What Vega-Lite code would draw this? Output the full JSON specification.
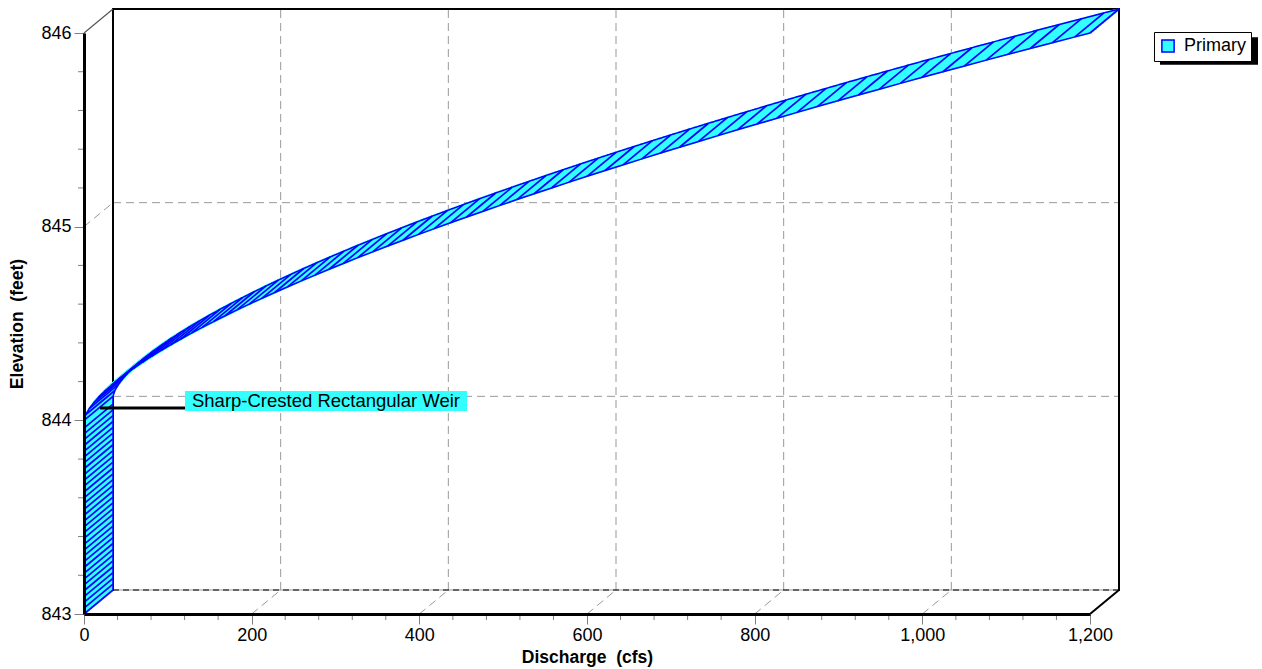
{
  "$schema": "https://vega.github.io/schema/vega-lite/v6.json",
  "width": 1006,
  "height": 581,
  "autosize": {"type": "none"},
  "padding": {"left": 84, "top": 33, "right": 172, "bottom": 55},
  "background": "white",
  "config": {"view": {"stroke": null}, "font": "Liberation Sans"},
  "datasets": {
    "curve": [
      {"h":843.00,"q":0},{"h":843.03,"q":0},{"h":843.06,"q":0},{"h":843.09,"q":0},{"h":843.12,"q":0},{"h":843.15,"q":0},{"h":843.18,"q":0},{"h":843.21,"q":0},{"h":843.24,"q":0},{"h":843.27,"q":0},{"h":843.30,"q":0},{"h":843.33,"q":0},{"h":843.36,"q":0},{"h":843.39,"q":0},{"h":843.42,"q":0},{"h":843.45,"q":0},{"h":843.48,"q":0},{"h":843.51,"q":0},{"h":843.54,"q":0},{"h":843.57,"q":0},{"h":843.60,"q":0},{"h":843.63,"q":0},{"h":843.66,"q":0},{"h":843.69,"q":0},{"h":843.72,"q":0},{"h":843.75,"q":0},{"h":843.78,"q":0},{"h":843.81,"q":0},{"h":843.84,"q":0},{"h":843.87,"q":0},{"h":843.90,"q":0},{"h":843.93,"q":0},{"h":843.96,"q":0},{"h":844.00,"q":0},
      {"h":844.03,"q":2.2},{"h":844.06,"q":6.24},{"h":844.09,"q":11.46},{"h":844.12,"q":17.64},{"h":844.15,"q":24.65},{"h":844.18,"q":32.4},{"h":844.21,"q":40.83},{"h":844.24,"q":49.88},{"h":844.27,"q":59.52},{"h":844.3,"q":69.71},{"h":844.33,"q":80.43},{"h":844.36,"q":91.64},{"h":844.39,"q":103.33},{"h":844.42,"q":115.48},{"h":844.45,"q":128.07},{"h":844.48,"q":141.09},{"h":844.51,"q":154.52},{"h":844.54,"q":168.35},{"h":844.57,"q":182.57},{"h":844.6,"q":197.18},{"h":844.63,"q":212.15},{"h":844.66,"q":227.48},{"h":844.69,"q":243.17},{"h":844.72,"q":259.2},{"h":844.75,"q":275.57},{"h":844.78,"q":292.26},{"h":844.81,"q":309.29},{"h":844.84,"q":326.63},{"h":844.87,"q":344.28},{"h":844.9,"q":362.24},{"h":844.93,"q":380.51},{"h":844.96,"q":399.06},{"h":844.99,"q":417.91},{"h":845.02,"q":437.05},{"h":845.05,"q":456.48},{"h":845.08,"q":476.18},{"h":845.11,"q":496.16},{"h":845.14,"q":516.4},{"h":845.17,"q":536.92},{"h":845.2,"q":557.7},{"h":845.23,"q":578.75},{"h":845.26,"q":600.05},{"h":845.29,"q":621.61},{"h":845.32,"q":643.41},{"h":845.35,"q":665.48},{"h":845.38,"q":687.78},{"h":845.41,"q":710.32},{"h":845.44,"q":733.12},{"h":845.47,"q":756.15},{"h":845.5,"q":779.42},{"h":845.53,"q":802.92},{"h":845.56,"q":826.65},{"h":845.59,"q":850.61},{"h":845.62,"q":874.79},{"h":845.65,"q":899.2},{"h":845.68,"q":923.84},{"h":845.71,"q":948.7},{"h":845.74,"q":973.77},{"h":845.77,"q":999.06},{"h":845.8,"q":1024.57},{"h":845.83,"q":1050.29},{"h":845.86,"q":1076.22},{"h":845.89,"q":1102.36},{"h":845.92,"q":1128.71},{"h":845.95,"q":1155.27},{"h":845.98,"q":1182.03},{"h":846.0,"q":1200}
    ]
  },
  "layer": [
    {
      "data": {"name": "curve"},
      "mark": {"type": "line", "strokeWidth": 0, "opacity": 0},
      "encoding": {
        "x": {"field": "q", "type": "quantitative", "title": "Discharge \u00a0(cfs)",
          "scale": {"domain": [0,1200], "nice": false, "zero": false},
          "axis": {"values": [0,200,400,600,800,1000,1200], "format": ",.0f", "tickSize": 10, "tickColor": "#808080", "tickWidth": 1,
            "domainColor": "#000000", "domainWidth": 3, "labelFontSize": 18, "labelColor": "#000000", "labelPadding": 2,
            "labelFlush": false, "labelOverlap": false, "titleFontSize": 17.5, "titleFontWeight": "bold", "titleColor": "#000000",
            "titlePadding": 4, "grid": false, "zindex": 1}},
        "y": {"field": "h", "type": "quantitative", "title": "Elevation \u00a0(feet)",
          "scale": {"domain": [843,846], "nice": false, "zero": false},
          "axis": {"values": [843,844,845,846], "format": "d", "tickSize": 10, "tickColor": "#808080", "tickWidth": 1,
            "domainColor": "#000000", "domainWidth": 3, "labelFontSize": 18, "labelColor": "#000000", "labelPadding": 3,
            "labelFlush": false, "labelOverlap": false, "titleFontSize": 17.5, "titleFontWeight": "bold", "titleColor": "#000000",
            "titlePadding": 14, "grid": false, "zindex": 1}},
        "order": {"field": "h"}
      }
    },
    {
      "data": {"values": [{"v":200},{"v":400},{"v":600},{"v":800},{"v":1000}]},
      "mark": {"type": "rule", "color": "#999999", "strokeWidth": 1, "strokeDash": [8,5], "xOffset": 29, "yOffset": -24, "y2Offset": -24},
      "encoding": {
        "x": {"field": "v", "type": "quantitative"},
        "y": {"datum": 843, "type": "quantitative"},
        "y2": {"datum": 846}
      }
    },
    {
      "data": {"values": [{"v":844},{"v":845},{"v":846}]},
      "mark": {"type": "rule", "color": "#999999", "strokeWidth": 1, "strokeDash": [8,5], "xOffset": 29, "x2Offset": 29, "yOffset": -24},
      "encoding": {
        "y": {"field": "v", "type": "quantitative"},
        "x": {"datum": 0, "type": "quantitative"},
        "x2": {"datum": 1200}
      }
    },
    {
      "data": {"values": [{"v":844},{"v":845}]},
      "mark": {"type": "rule", "color": "#999999", "strokeWidth": 1, "strokeDash": [8,5], "x2Offset": 29, "y2Offset": -24},
      "encoding": {
        "y": {"field": "v", "type": "quantitative"},
        "y2": {"field": "v"},
        "x": {"datum": 0, "type": "quantitative"},
        "x2": {"datum": 0}
      }
    },
    {
      "data": {"values": [{"v":200},{"v":400},{"v":600},{"v":800},{"v":1000}]},
      "mark": {"type": "rule", "color": "#999999", "strokeWidth": 1, "strokeDash": [8,5], "x2Offset": 29, "y2Offset": -24},
      "encoding": {
        "x": {"field": "v", "type": "quantitative"},
        "x2": {"field": "v"},
        "y": {"datum": 843, "type": "quantitative"},
        "y2": {"datum": 843}
      }
    },
    {
      "data": {"values": [{"v":0}]},
      "mark": {"type": "rule", "color": "#999999", "strokeWidth": 1, "xOffset": 29, "x2Offset": 29, "yOffset": -24},
      "encoding": {
        "y": {"datum": 843, "type": "quantitative"},
        "x": {"datum": 0, "type": "quantitative"},
        "x2": {"datum": 1200}
      }
    },
    {
      "data": {"values": [{"v":0}]},
      "mark": {"type": "rule", "color": "#000000", "strokeWidth": 1, "strokeDash": [6,4], "xOffset": 29, "x2Offset": 29, "yOffset": -24},
      "encoding": {
        "y": {"datum": 843, "type": "quantitative"},
        "x": {"datum": 0, "type": "quantitative"},
        "x2": {"datum": 1200}
      }
    },
    {
      "data": {"values": [{"a":0,"b":843,"c":0,"d":846},{"a":0,"b":846,"c":1200,"d":846},{"a":1200,"b":846,"c":1200,"d":843}]},
      "mark": {"type": "rule", "color": "#000000", "strokeWidth": 2, "strokeCap": "square", "xOffset": 29, "x2Offset": 29, "yOffset": -24, "y2Offset": -24},
      "encoding": {
        "x": {"field": "a", "type": "quantitative"},
        "x2": {"field": "c"},
        "y": {"field": "b", "type": "quantitative"},
        "y2": {"field": "d"}
      }
    },
    {
      "data": {"values": [{"v":846}]},
      "mark": {"type": "rule", "color": "#555555", "strokeWidth": 1.2, "x2Offset": 29, "y2Offset": -24},
      "encoding": {
        "y": {"field": "v", "type": "quantitative"},
        "y2": {"field": "v"},
        "x": {"datum": 0, "type": "quantitative"},
        "x2": {"datum": 0}
      }
    },
    {
      "data": {"values": [{"v":1200}]},
      "mark": {"type": "rule", "color": "#000000", "strokeWidth": 2, "x2Offset": 29, "y2Offset": -24},
      "encoding": {
        "x": {"field": "v", "type": "quantitative"},
        "x2": {"field": "v"},
        "y": {"datum": 843, "type": "quantitative"},
        "y2": {"datum": 843}
      }
    },
    {"data": {"name": "curve"}, "mark": {"type": "line", "color": "#33ffff", "strokeWidth": 3.5, "strokeJoin": "round", "xOffset": 1.74, "yOffset": -1.44}, "encoding": {"x": {"field": "q", "type": "quantitative"}, "y": {"field": "h", "type": "quantitative"}, "order": {"field": "h"}}},
    {"data": {"name": "curve"}, "mark": {"type": "line", "color": "#33ffff", "strokeWidth": 3.5, "strokeJoin": "round", "xOffset": 4.06, "yOffset": -3.36}, "encoding": {"x": {"field": "q", "type": "quantitative"}, "y": {"field": "h", "type": "quantitative"}, "order": {"field": "h"}}},
    {"data": {"name": "curve"}, "mark": {"type": "line", "color": "#33ffff", "strokeWidth": 3.5, "strokeJoin": "round", "xOffset": 6.38, "yOffset": -5.28}, "encoding": {"x": {"field": "q", "type": "quantitative"}, "y": {"field": "h", "type": "quantitative"}, "order": {"field": "h"}}},
    {"data": {"name": "curve"}, "mark": {"type": "line", "color": "#33ffff", "strokeWidth": 3.5, "strokeJoin": "round", "xOffset": 8.7, "yOffset": -7.2}, "encoding": {"x": {"field": "q", "type": "quantitative"}, "y": {"field": "h", "type": "quantitative"}, "order": {"field": "h"}}},
    {"data": {"name": "curve"}, "mark": {"type": "line", "color": "#33ffff", "strokeWidth": 3.5, "strokeJoin": "round", "xOffset": 11.02, "yOffset": -9.12}, "encoding": {"x": {"field": "q", "type": "quantitative"}, "y": {"field": "h", "type": "quantitative"}, "order": {"field": "h"}}},
    {"data": {"name": "curve"}, "mark": {"type": "line", "color": "#33ffff", "strokeWidth": 3.5, "strokeJoin": "round", "xOffset": 13.34, "yOffset": -11.04}, "encoding": {"x": {"field": "q", "type": "quantitative"}, "y": {"field": "h", "type": "quantitative"}, "order": {"field": "h"}}},
    {"data": {"name": "curve"}, "mark": {"type": "line", "color": "#33ffff", "strokeWidth": 3.5, "strokeJoin": "round", "xOffset": 15.66, "yOffset": -12.96}, "encoding": {"x": {"field": "q", "type": "quantitative"}, "y": {"field": "h", "type": "quantitative"}, "order": {"field": "h"}}},
    {"data": {"name": "curve"}, "mark": {"type": "line", "color": "#33ffff", "strokeWidth": 3.5, "strokeJoin": "round", "xOffset": 17.98, "yOffset": -14.88}, "encoding": {"x": {"field": "q", "type": "quantitative"}, "y": {"field": "h", "type": "quantitative"}, "order": {"field": "h"}}},
    {"data": {"name": "curve"}, "mark": {"type": "line", "color": "#33ffff", "strokeWidth": 3.5, "strokeJoin": "round", "xOffset": 20.3, "yOffset": -16.8}, "encoding": {"x": {"field": "q", "type": "quantitative"}, "y": {"field": "h", "type": "quantitative"}, "order": {"field": "h"}}},
    {"data": {"name": "curve"}, "mark": {"type": "line", "color": "#33ffff", "strokeWidth": 3.5, "strokeJoin": "round", "xOffset": 22.62, "yOffset": -18.72}, "encoding": {"x": {"field": "q", "type": "quantitative"}, "y": {"field": "h", "type": "quantitative"}, "order": {"field": "h"}}},
    {"data": {"name": "curve"}, "mark": {"type": "line", "color": "#33ffff", "strokeWidth": 3.5, "strokeJoin": "round", "xOffset": 24.94, "yOffset": -20.64}, "encoding": {"x": {"field": "q", "type": "quantitative"}, "y": {"field": "h", "type": "quantitative"}, "order": {"field": "h"}}},
    {"data": {"name": "curve"}, "mark": {"type": "line", "color": "#33ffff", "strokeWidth": 3.5, "strokeJoin": "round", "xOffset": 27.26, "yOffset": -22.56}, "encoding": {"x": {"field": "q", "type": "quantitative"}, "y": {"field": "h", "type": "quantitative"}, "order": {"field": "h"}}},
    {
      "data": {"name": "curve"},
      "mark": {"type": "rule", "color": "#0000ff", "strokeWidth": 1.7, "x2Offset": 29, "y2Offset": -24},
      "encoding": {
        "x": {"field": "q", "type": "quantitative"},
        "x2": {"field": "q"},
        "y": {"field": "h", "type": "quantitative"},
        "y2": {"field": "h"}
      }
    },
    {
      "data": {"name": "curve"},
      "mark": {"type": "line", "strokeWidth": 1.5, "strokeJoin": "round", "xOffset": 29, "yOffset": -24},
      "encoding": {
        "x": {"field": "q", "type": "quantitative"},
        "y": {"field": "h", "type": "quantitative"},
        "order": {"field": "h"},
        "color": {"value": "#0000ff"},
        "strokeDash": {
          "datum": "Primary ",
          "type": "nominal",
          "scale": {"range": [[1,0]]},
          "legend": {
            "orient": "none", "legendX": 1076, "legendY": -31, "title": null, "zindex": 1,
            "padding": 0, "labelExpr": "''", "labelOffset": 0, "labelFontSize": 1,
            "symbolType": "M-1,-0.28L1,-0.28L1,0.28L-1,0.28Z", "symbolSize": 9604, "symbolOffset": 0,
            "symbolFillColor": "#000000", "symbolStrokeColor": "#000000", "symbolStrokeWidth": 0, "symbolOpacity": 1,
            "encode": {"symbols": {"update": {"fill": {"value": "#000000"}, "stroke": {"value": "#000000"}, "strokeWidth": {"value": 0}, "opacity": {"value": 1}, "fillOpacity": {"value": 1}}}}
          }
        }
      }
    },
    {
      "data": {"name": "curve"},
      "mark": {"type": "line", "strokeWidth": 1.5, "strokeJoin": "round"},
      "encoding": {
        "x": {"field": "q", "type": "quantitative"},
        "y": {"field": "h", "type": "quantitative"},
        "order": {"field": "h"},
        "color": {
          "datum": "Primary",
          "type": "nominal",
          "scale": {"range": ["#0000ff"]},
          "legend": {
            "orient": "none", "legendX": 1070, "legendY": -1, "title": null, "zindex": 2,
            "fillColor": "#ffffff", "strokeColor": "#000000", "padding": 5,
            "symbolType": "square", "symbolSize": 150, "labelFontSize": 18, "labelColor": "#000000", "labelOffset": 7,
            "encode": {"symbols": {"update": {"fill": {"value": "#33ffff"}, "stroke": {"value": "#0000ff"}, "strokeWidth": {"value": 1.5}}}}
          }
        }
      }
    },
    {
      "data": {"values": [{"v":40},{"v":80},{"v":120},{"v":160},{"v":240},{"v":280},{"v":320},{"v":360},{"v":440},{"v":480},{"v":520},{"v":560},{"v":640},{"v":680},{"v":720},{"v":760},{"v":840},{"v":880},{"v":920},{"v":960},{"v":1040},{"v":1080},{"v":1120},{"v":1160}]},
      "mark": {"type": "rule", "color": "#808080", "strokeWidth": 1, "y2Offset": 6},
      "encoding": {
        "x": {"field": "v", "type": "quantitative"},
        "y": {"datum": 843, "type": "quantitative"},
        "y2": {"datum": 843}
      }
    },
    {
      "data": {"values": [{"v":843.2},{"v":843.4},{"v":843.6},{"v":843.8},{"v":844.2},{"v":844.4},{"v":844.6},{"v":844.8},{"v":845.2},{"v":845.4},{"v":845.6},{"v":845.8}]},
      "mark": {"type": "rule", "color": "#808080", "strokeWidth": 1, "x2Offset": -6},
      "encoding": {
        "y": {"field": "v", "type": "quantitative"},
        "x": {"datum": 0, "type": "quantitative"},
        "x2": {"datum": 0}
      }
    },
    {
      "data": {"values": [{"x1": 120.5, "x2": 456.9, "y1": 844.048, "y2": 844.152}]},
      "mark": {"type": "rect", "color": "#33ffff"},
      "encoding": {
        "x": {"field": "x1", "type": "quantitative"},
        "x2": {"field": "x2"},
        "y": {"field": "y1", "type": "quantitative"},
        "y2": {"field": "y2"}
      }
    },
    {
      "data": {"values": [{"x": 128.8, "y": 844.1, "label": "Sharp-Crested Rectangular Weir"}]},
      "mark": {"type": "text", "align": "left", "baseline": "middle", "fontSize": 18.5, "color": "#000000"},
      "encoding": {
        "x": {"field": "x", "type": "quantitative"},
        "y": {"field": "y", "type": "quantitative"},
        "text": {"field": "label"}
      }
    },
    {
      "data": {"values": [{"x1": 19.1, "x2": 120.5, "y": 844.064}]},
      "mark": {"type": "rule", "color": "#000000", "strokeWidth": 3},
      "encoding": {
        "x": {"field": "x1", "type": "quantitative"},
        "x2": {"field": "x2"},
        "y": {"field": "y", "type": "quantitative"}
      }
    }
  ]
}
